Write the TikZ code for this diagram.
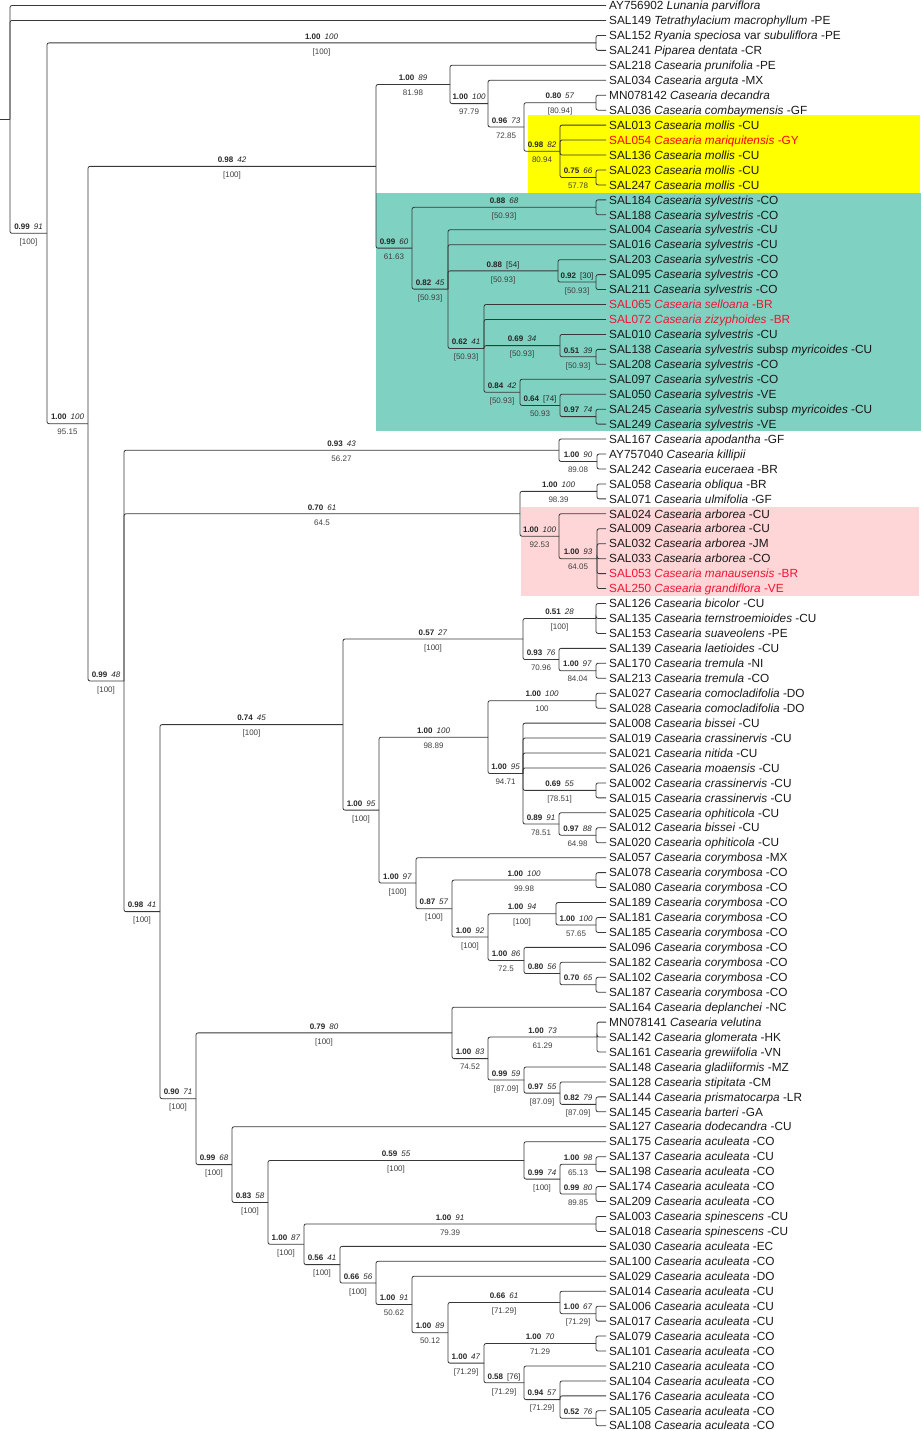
\documentclass[tikz,border=0pt]{standalone}
\usepackage{fontspec}
\setmainfont{Liberation Sans}

\definecolor{cladeyellow}{RGB}{255,255,0}
\definecolor{cladeteal}{RGB}{127,209,193}
\definecolor{cladepink}{RGB}{255,214,216}
\definecolor{tipred}{RGB}{240,20,50}

\tikzset{
  branch/.style={draw=black!78, line width=0.8pt, rounded corners=2pt},
  leaf/.style={anchor=west, inner xsep=3pt, inner ysep=0pt, text height=9pt, text depth=0.6pt,
    font=\fontsize{11.8}{14}\selectfont, text=black!90},
  redleaf/.style={leaf, text=tipred},
  postlab/.style={anchor=base, yshift=3.8pt, inner sep=0pt, font=\fontsize{8}{9}\selectfont, text=black!85},
  thirdlab/.style={anchor=base, yshift=-11.2pt, inner sep=0pt, font=\fontsize{8}{9}\selectfont, text=black!75}
}

% branch to an inner clade, with its support values
\newcommand{\clade}[5]{\draw[branch] (#1) |- (#2)
  node[pos=0.75,postlab]{\textbf{#3}\hspace{4pt}\textit{#4}}
  node[pos=0.75,thirdlab]{#5};}
% branch to a tip
\newcommand{\tip}[2]{\draw[branch] (#1) |- (#2.west);}

\begin{document}
\begin{tikzpicture}[x=1pt,y=-14.95pt]
    \useasboundingbox (0,-0.368) rectangle (922,95.35);
    %\draw[help lines] (0,0) grid (922,95);
    % highlighted clades
    \fill[cladeyellow] (528,7.3) rectangle (920,12.55);
    \fill[cladeteal] (376,12.55) rectangle (921,28.47);
    \fill[cladepink] (521,33.52) rectangle (919,39.48);

    % tips
    \node[leaf] (AY756902) at (606,0) {AY756902 \textit{Lunania parviflora}};
    \node[leaf] (SAL149) at (606,1) {SAL149 \textit{Tetrathylacium macrophyllum} -PE};
    \node[leaf] (SAL152) at (606,2) {SAL152 \textit{Ryania speciosa} var \textit{subuliflora} -PE};
    \node[leaf] (SAL241) at (606,3) {SAL241 \textit{Piparea dentata} -CR};
    \node[leaf] (SAL218) at (606,4) {SAL218 \textit{Casearia prunifolia} -PE};
    \node[leaf] (SAL034) at (606,5) {SAL034 \textit{Casearia arguta} -MX};
    \node[leaf] (MN078142) at (606,6) {MN078142 \textit{Casearia decandra}};
    \node[leaf] (SAL036) at (606,7) {SAL036 \textit{Casearia combaymensis} -GF};
    \node[leaf] (SAL013) at (606,8) {SAL013 \textit{Casearia mollis} -CU};
    \node[leaf,text=red] (SAL054) at (606,9) {SAL054 \textit{Casearia mariquitensis} -GY};
    \node[leaf] (SAL136) at (606,10) {SAL136 \textit{Casearia mollis} -CU};
    \node[leaf] (SAL023) at (606,11) {SAL023 \textit{Casearia mollis} -CU};
    \node[leaf] (SAL247) at (606,12) {SAL247 \textit{Casearia mollis} -CU};
    \node[leaf] (SAL184) at (606,13) {SAL184 \textit{Casearia sylvestris} -CO};
    \node[leaf] (SAL188) at (606,14) {SAL188 \textit{Casearia sylvestris} -CO};
    \node[leaf] (SAL004) at (606,15) {SAL004 \textit{Casearia sylvestris} -CU};
    \node[leaf] (SAL016) at (606,16) {SAL016 \textit{Casearia sylvestris} -CU};
    \node[leaf] (SAL203) at (606,17) {SAL203 \textit{Casearia sylvestris} -CO};
    \node[leaf] (SAL095) at (606,18) {SAL095 \textit{Casearia sylvestris} -CO};
    \node[leaf] (SAL211) at (606,19) {SAL211 \textit{Casearia sylvestris} -CO};
    \node[redleaf] (SAL065) at (606,20) {SAL065 \textit{Casearia selloana} -BR};
    \node[redleaf] (SAL072) at (606,21) {SAL072 \textit{Casearia zizyphoides} -BR};
    \node[leaf] (SAL010) at (606,22) {SAL010 \textit{Casearia sylvestris} -CU};
    \node[leaf] (SAL138) at (606,23) {SAL138 \textit{Casearia sylvestris} subsp \textit{myricoides} -CU};
    \node[leaf] (SAL208) at (606,24) {SAL208 \textit{Casearia sylvestris} -CO};
    \node[leaf] (SAL097) at (606,25) {SAL097 \textit{Casearia sylvestris} -CO};
    \node[leaf] (SAL050) at (606,26) {SAL050 \textit{Casearia sylvestris} -VE};
    \node[leaf] (SAL245) at (606,27) {SAL245 \textit{Casearia sylvestris} subsp \textit{myricoides} -CU};
    \node[leaf] (SAL249) at (606,28) {SAL249 \textit{Casearia sylvestris} -VE};
    \node[leaf] (SAL167) at (606,29) {SAL167 \textit{Casearia apodantha} -GF};
    \node[leaf] (AY757040) at (606,30) {AY757040 \textit{Casearia killipii}};
    \node[leaf] (SAL242) at (606,31) {SAL242 \textit{Casearia euceraea} -BR};
    \node[leaf] (SAL058) at (606,32) {SAL058 \textit{Casearia obliqua} -BR};
    \node[leaf] (SAL071) at (606,33) {SAL071 \textit{Casearia ulmifolia} -GF};
    \node[leaf] (SAL024) at (606,34) {SAL024 \textit{Casearia arborea} -CU};
    \node[leaf] (SAL009) at (606,35) {SAL009 \textit{Casearia arborea} -CU};
    \node[leaf] (SAL032) at (606,36) {SAL032 \textit{Casearia arborea} -JM};
    \node[leaf] (SAL033) at (606,37) {SAL033 \textit{Casearia arborea} -CO};
    \node[redleaf] (SAL053) at (606,38) {SAL053 \textit{Casearia manausensis} -BR};
    \node[redleaf] (SAL250) at (606,39) {SAL250 \textit{Casearia grandiflora} -VE};
    \node[leaf] (SAL126) at (606,40) {SAL126 \textit{Casearia bicolor} -CU};
    \node[leaf] (SAL135) at (606,41) {SAL135 \textit{Casearia ternstroemioides} -CU};
    \node[leaf] (SAL153) at (606,42) {SAL153 \textit{Casearia suaveolens} -PE};
    \node[leaf] (SAL139) at (606,43) {SAL139 \textit{Casearia laetioides} -CU};
    \node[leaf] (SAL170) at (606,44) {SAL170 \textit{Casearia tremula} -NI};
    \node[leaf] (SAL213) at (606,45) {SAL213 \textit{Casearia tremula} -CO};
    \node[leaf] (SAL027) at (606,46) {SAL027 \textit{Casearia comocladifolia} -DO};
    \node[leaf] (SAL028) at (606,47) {SAL028 \textit{Casearia comocladifolia} -DO};
    \node[leaf] (SAL008) at (606,48) {SAL008 \textit{Casearia bissei} -CU};
    \node[leaf] (SAL019) at (606,49) {SAL019 \textit{Casearia crassinervis} -CU};
    \node[leaf] (SAL021) at (606,50) {SAL021 \textit{Casearia nitida} -CU};
    \node[leaf] (SAL026) at (606,51) {SAL026 \textit{Casearia moaensis} -CU};
    \node[leaf] (SAL002) at (606,52) {SAL002 \textit{Casearia crassinervis} -CU};
    \node[leaf] (SAL015) at (606,53) {SAL015 \textit{Casearia crassinervis} -CU};
    \node[leaf] (SAL025) at (606,54) {SAL025 \textit{Casearia ophiticola} -CU};
    \node[leaf] (SAL012) at (606,55) {SAL012 \textit{Casearia bissei} -CU};
    \node[leaf] (SAL020) at (606,56) {SAL020 \textit{Casearia ophiticola} -CU};
    \node[leaf] (SAL057) at (606,57) {SAL057 \textit{Casearia corymbosa} -MX};
    \node[leaf] (SAL078) at (606,58) {SAL078 \textit{Casearia corymbosa} -CO};
    \node[leaf] (SAL080) at (606,59) {SAL080 \textit{Casearia corymbosa} -CO};
    \node[leaf] (SAL189) at (606,60) {SAL189 \textit{Casearia corymbosa} -CO};
    \node[leaf] (SAL181) at (606,61) {SAL181 \textit{Casearia corymbosa} -CO};
    \node[leaf] (SAL185) at (606,62) {SAL185 \textit{Casearia corymbosa} -CO};
    \node[leaf] (SAL096) at (606,63) {SAL096 \textit{Casearia corymbosa} -CO};
    \node[leaf] (SAL182) at (606,64) {SAL182 \textit{Casearia corymbosa} -CO};
    \node[leaf] (SAL102) at (606,65) {SAL102 \textit{Casearia corymbosa} -CO};
    \node[leaf] (SAL187) at (606,66) {SAL187 \textit{Casearia corymbosa} -CO};
    \node[leaf] (SAL164) at (606,67) {SAL164 \textit{Casearia deplanchei} -NC};
    \node[leaf] (MN078141) at (606,68) {MN078141 \textit{Casearia velutina}};
    \node[leaf] (SAL142) at (606,69) {SAL142 \textit{Casearia glomerata} -HK};
    \node[leaf] (SAL161) at (606,70) {SAL161 \textit{Casearia grewiifolia} -VN};
    \node[leaf] (SAL148) at (606,71) {SAL148 \textit{Casearia gladiiformis} -MZ};
    \node[leaf] (SAL128) at (606,72) {SAL128 \textit{Casearia stipitata} -CM};
    \node[leaf] (SAL144) at (606,73) {SAL144 \textit{Casearia prismatocarpa} -LR};
    \node[leaf] (SAL145) at (606,74) {SAL145 \textit{Casearia barteri} -GA};
    \node[leaf] (SAL127) at (606,75) {SAL127 \textit{Casearia dodecandra} -CU};
    \node[leaf] (SAL175) at (606,76) {SAL175 \textit{Casearia aculeata} -CO};
    \node[leaf] (SAL137) at (606,77) {SAL137 \textit{Casearia aculeata} -CU};
    \node[leaf] (SAL198) at (606,78) {SAL198 \textit{Casearia aculeata} -CO};
    \node[leaf] (SAL174) at (606,79) {SAL174 \textit{Casearia aculeata} -CO};
    \node[leaf] (SAL209) at (606,80) {SAL209 \textit{Casearia aculeata} -CO};
    \node[leaf] (SAL003) at (606,81) {SAL003 \textit{Casearia spinescens} -CU};
    \node[leaf] (SAL018) at (606,82) {SAL018 \textit{Casearia spinescens} -CU};
    \node[leaf] (SAL030) at (606,83) {SAL030 \textit{Casearia aculeata} -EC};
    \node[leaf] (SAL100) at (606,84) {SAL100 \textit{Casearia aculeata} -CO};
    \node[leaf] (SAL029) at (606,85) {SAL029 \textit{Casearia aculeata} -DO};
    \node[leaf] (SAL014) at (606,86) {SAL014 \textit{Casearia aculeata} -CU};
    \node[leaf] (SAL006) at (606,87) {SAL006 \textit{Casearia aculeata} -CU};
    \node[leaf] (SAL017) at (606,88) {SAL017 \textit{Casearia aculeata} -CU};
    \node[leaf] (SAL079) at (606,89) {SAL079 \textit{Casearia aculeata} -CO};
    \node[leaf] (SAL101) at (606,90) {SAL101 \textit{Casearia aculeata} -CO};
    \node[leaf] (SAL210) at (606,91) {SAL210 \textit{Casearia aculeata} -CO};
    \node[leaf] (SAL104) at (606,92) {SAL104 \textit{Casearia aculeata} -CO};
    \node[leaf] (SAL176) at (606,93) {SAL176 \textit{Casearia aculeata} -CO};
    \node[leaf] (SAL105) at (606,94) {SAL105 \textit{Casearia aculeata} -CO};
    \node[leaf] (SAL108) at (606,95) {SAL108 \textit{Casearia aculeata} -CO};

    % inner nodes
    \coordinate (stem) at (0,7.62);
    \coordinate (root) at (10,7.62);
    \coordinate (ingroup) at (47,15.24);
    \coordinate (ryania) at (596,2.5);
    \coordinate (cas) at (88,27.97);
    \coordinate (upper) at (376,10.76);
    \coordinate (prun) at (450,5.28);
    \coordinate (argu) at (488,6.5625);
    \coordinate (deca) at (524,8.125);
    \coordinate (decb) at (596,6.5);
    \coordinate (moll) at (560,9.75);
    \coordinate (molb) at (596,11.5);
    \coordinate (sylv) at (412,16.23);
    \coordinate (sylb) at (596,13.5);
    \coordinate (sylc) at (448,18.97);
    \coordinate (syld) at (558,17.75);
    \coordinate (syle) at (596,18.5);
    \coordinate (sylf) at (484,22.94);
    \coordinate (sylg) at (560,22.75);
    \coordinate (sylh) at (596,23.5);
    \coordinate (syli) at (520,25.875);
    \coordinate (sylj) at (560,26.75);
    \coordinate (sylk) at (596,27.5);
    \coordinate (lower) at (124,45.18);
    \coordinate (apod) at (559,29.75);
    \coordinate (apob) at (597,30.5);
    \coordinate (obli) at (520,34);
    \coordinate (oblb) at (597,32.5);
    \coordinate (arbo) at (559,35.5);
    \coordinate (arbb) at (597,37);
    \coordinate (main) at (160,60.61);
    \coordinate (cari) at (343,48.10);
    \coordinate (bico) at (523,42.375);
    \coordinate (bicb) at (596,41);
    \coordinate (trem) at (559,43.75);
    \coordinate (tremb) at (596,44.5);
    \coordinate (cuba) at (379,53.82);
    \coordinate (coma) at (488,48.94);
    \coordinate (comb) at (596,46.5);
    \coordinate (cras) at (523,51.375);
    \coordinate (crab) at (596,52.5);
    \coordinate (ophi) at (559,54.75);
    \coordinate (ophb) at (596,55.5);
    \coordinate (cory) at (416,58.70);
    \coordinate (coryb) at (452,60.41);
    \coordinate (coryc) at (596,58.5);
    \coordinate (coryd) at (488,62.31);
    \coordinate (corye) at (556,60.75);
    \coordinate (coryf) at (596,61.5);
    \coordinate (coryg) at (524,63.875);
    \coordinate (coryh) at (560,64.75);
    \coordinate (coryi) at (596,65.5);
    \coordinate (base) at (196,73.12);
    \coordinate (pale) at (452,68.72);
    \coordinate (paleb) at (488,70.44);
    \coordinate (velu) at (597,69);
    \coordinate (afri) at (524,71.875);
    \coordinate (afrb) at (560,72.75);
    \coordinate (afrc) at (596,73.5);
    \coordinate (neo) at (232,77.53);
    \coordinate (acul) at (268,80.06);
    \coordinate (aculb) at (524,77.25);
    \coordinate (aculc) at (560,78.5);
    \coordinate (aculd) at (596,77.5);
    \coordinate (acule) at (596,79.5);
    \coordinate (spin) at (304,82.86);
    \coordinate (spinb) at (596,81.5);
    \coordinate (acua) at (340,84.22);
    \coordinate (acub) at (376,85.45);
    \coordinate (acuc) at (412,86.89);
    \coordinate (acud) at (448,88.78);
    \coordinate (acue) at (560,86.75);
    \coordinate (acuf) at (596,87.5);
    \coordinate (acug) at (484,90.81);
    \coordinate (acuh) at (596,89.5);
    \coordinate (acui) at (524,92.125);
    \coordinate (acuj) at (560,93.25);
    \coordinate (acuk) at (596,94.5);

    % outgroups
    \draw[branch] (stem) -- (root);
    \tip{root}{AY756902}
    \tip{root}{SAL149}
    \clade{root}{ingroup}{0.99}{91}{[100]}
    \clade{ingroup}{ryania}{1.00}{100}{[100]}
    \tip{ryania}{SAL152} \tip{ryania}{SAL241}
    \clade{ingroup}{cas}{1.00}{100}{95.15}

    % upper clade
    \clade{cas}{upper}{0.98}{42}{[100]}
    \clade{upper}{prun}{1.00}{89}{81.98}
    \tip{prun}{SAL218}
    \clade{prun}{argu}{1.00}{100}{97.79}
    \tip{argu}{SAL034}
    \clade{argu}{deca}{0.96}{73}{72.85}
    \clade{deca}{decb}{0.80}{57}{[80.94]}
    \tip{decb}{MN078142} \tip{decb}{SAL036}
    \clade{deca}{moll}{0.98}{82}{80.94}
    \tip{moll}{SAL013} \tip{moll}{SAL054} \tip{moll}{SAL136}
    \clade{moll}{molb}{0.75}{66}{57.78}
    \tip{molb}{SAL023} \tip{molb}{SAL247}
    \clade{upper}{sylv}{0.99}{60}{61.63}
    \clade{sylv}{sylb}{0.88}{68}{[50.93]}
    \tip{sylb}{SAL184} \tip{sylb}{SAL188}
    \clade{sylv}{sylc}{0.82}{45}{[50.93]}
    \tip{sylc}{SAL004} \tip{sylc}{SAL016}
    \clade{sylc}{syld}{0.88}{\upshape[54]}{[50.93]}
    \tip{syld}{SAL203}
    \clade{syld}{syle}{0.92}{\upshape[30]}{[50.93]}
    \tip{syle}{SAL095} \tip{syle}{SAL211}
    \clade{sylc}{sylf}{0.62}{41}{[50.93]}
    \tip{sylf}{SAL065} \tip{sylf}{SAL072}
    \clade{sylf}{sylg}{0.69}{34}{[50.93]}
    \tip{sylg}{SAL010}
    \clade{sylg}{sylh}{0.51}{39}{[50.93]}
    \tip{sylh}{SAL138} \tip{sylh}{SAL208}
    \clade{sylf}{syli}{0.84}{42}{[50.93]}
    \tip{syli}{SAL097}
    \clade{syli}{sylj}{0.64}{\upshape[74]}{50.93}
    \tip{sylj}{SAL050}
    \clade{sylj}{sylk}{0.97}{74}{}
    \tip{sylk}{SAL245} \tip{sylk}{SAL249}

    % lower clade
    \clade{cas}{lower}{0.99}{48}{[100]}
    \clade{lower}{apod}{0.93}{43}{56.27}
    \tip{apod}{SAL167}
    \clade{apod}{apob}{1.00}{90}{89.08}
    \tip{apob}{AY757040} \tip{apob}{SAL242}
    \clade{lower}{obli}{0.70}{61}{64.5}
    \clade{obli}{oblb}{1.00}{100}{98.39}
    \tip{oblb}{SAL058} \tip{oblb}{SAL071}
    \clade{obli}{arbo}{1.00}{100}{92.53}
    \tip{arbo}{SAL024}
    \clade{arbo}{arbb}{1.00}{93}{64.05}
    \tip{arbb}{SAL009} \tip{arbb}{SAL032} \tip{arbb}{SAL033}
    \tip{arbb}{SAL053} \tip{arbb}{SAL250}
    \clade{lower}{main}{0.98}{41}{[100]}
    \clade{main}{cari}{0.74}{45}{[100]}
    \clade{cari}{bico}{0.57}{27}{[100]}
    \clade{bico}{bicb}{0.51}{28}{[100]}
    \tip{bicb}{SAL126} \tip{bicb}{SAL135} \tip{bicb}{SAL153}
    \clade{bico}{trem}{0.93}{76}{70.96}
    \tip{trem}{SAL139}
    \clade{trem}{tremb}{1.00}{97}{84.04}
    \tip{tremb}{SAL170} \tip{tremb}{SAL213}
    \clade{cari}{cuba}{1.00}{95}{[100]}
    \clade{cuba}{coma}{1.00}{100}{98.89}
    \clade{coma}{comb}{1.00}{100}{100}
    \tip{comb}{SAL027} \tip{comb}{SAL028}
    \clade{coma}{cras}{1.00}{95}{94.71}
    \tip{cras}{SAL008} \tip{cras}{SAL019} \tip{cras}{SAL021} \tip{cras}{SAL026}
    \clade{cras}{crab}{0.69}{55}{[78.51]}
    \tip{crab}{SAL002} \tip{crab}{SAL015}
    \clade{cras}{ophi}{0.89}{91}{78.51}
    \tip{ophi}{SAL025}
    \clade{ophi}{ophb}{0.97}{88}{64.98}
    \tip{ophb}{SAL012} \tip{ophb}{SAL020}
    \clade{cuba}{cory}{1.00}{97}{[100]}
    \tip{cory}{SAL057}
    \clade{cory}{coryb}{0.87}{57}{[100]}
    \clade{coryb}{coryc}{1.00}{100}{99.98}
    \tip{coryc}{SAL078} \tip{coryc}{SAL080}
    \clade{coryb}{coryd}{1.00}{92}{[100]}
    \clade{coryd}{corye}{1.00}{94}{[100]}
    \tip{corye}{SAL189}
    \clade{corye}{coryf}{1.00}{100}{57.65}
    \tip{coryf}{SAL181} \tip{coryf}{SAL185}
    \clade{coryd}{coryg}{1.00}{86}{72.5}
    \tip{coryg}{SAL096}
    \clade{coryg}{coryh}{0.80}{56}{}
    \tip{coryh}{SAL182}
    \clade{coryh}{coryi}{0.70}{65}{}
    \tip{coryi}{SAL102} \tip{coryi}{SAL187}
    \clade{main}{base}{0.90}{71}{[100]}
    \clade{base}{pale}{0.79}{80}{[100]}
    \tip{pale}{SAL164}
    \clade{pale}{paleb}{1.00}{83}{74.52}
    \clade{paleb}{velu}{1.00}{73}{61.29}
    \tip{velu}{MN078141} \tip{velu}{SAL142} \tip{velu}{SAL161}
    \clade{paleb}{afri}{0.99}{59}{[87.09]}
    \tip{afri}{SAL148}
    \clade{afri}{afrb}{0.97}{55}{[87.09]}
    \tip{afrb}{SAL128}
    \clade{afrb}{afrc}{0.82}{79}{[87.09]}
    \tip{afrc}{SAL144} \tip{afrc}{SAL145}
    \clade{base}{neo}{0.99}{68}{[100]}
    \tip{neo}{SAL127}
    \clade{neo}{acul}{0.83}{58}{[100]}
    \clade{acul}{aculb}{0.59}{55}{[100]}
    \tip{aculb}{SAL175}
    \clade{aculb}{aculc}{0.99}{74}{[100]}
    \clade{aculc}{aculd}{1.00}{98}{65.13}
    \tip{aculd}{SAL137} \tip{aculd}{SAL198}
    \clade{aculc}{acule}{0.99}{80}{89.85}
    \tip{acule}{SAL174} \tip{acule}{SAL209}
    \clade{acul}{spin}{1.00}{87}{[100]}
    \clade{spin}{spinb}{1.00}{91}{79.39}
    \tip{spinb}{SAL003} \tip{spinb}{SAL018}
    \clade{spin}{acua}{0.56}{41}{[100]}
    \tip{acua}{SAL030}
    \clade{acua}{acub}{0.66}{56}{[100]}
    \tip{acub}{SAL100}
    \clade{acub}{acuc}{1.00}{91}{50.62}
    \tip{acuc}{SAL029}
    \clade{acuc}{acud}{1.00}{89}{50.12}
    \clade{acud}{acue}{0.66}{61}{[71.29]}
    \tip{acue}{SAL014}
    \clade{acue}{acuf}{1.00}{67}{[71.29]}
    \tip{acuf}{SAL006} \tip{acuf}{SAL017}
    \clade{acud}{acug}{1.00}{47}{[71.29]}
    \clade{acug}{acuh}{1.00}{70}{71.29}
    \tip{acuh}{SAL079} \tip{acuh}{SAL101}
    \clade{acug}{acui}{0.58}{\upshape[76]}{[71.29]}
    \tip{acui}{SAL210}
    \clade{acui}{acuj}{0.94}{57}{[71.29]}
    \tip{acuj}{SAL104} \tip{acuj}{SAL176}
    \clade{acuj}{acuk}{0.52}{76}{}
    \tip{acuk}{SAL105} \tip{acuk}{SAL108}
\end{tikzpicture}
\end{document}
